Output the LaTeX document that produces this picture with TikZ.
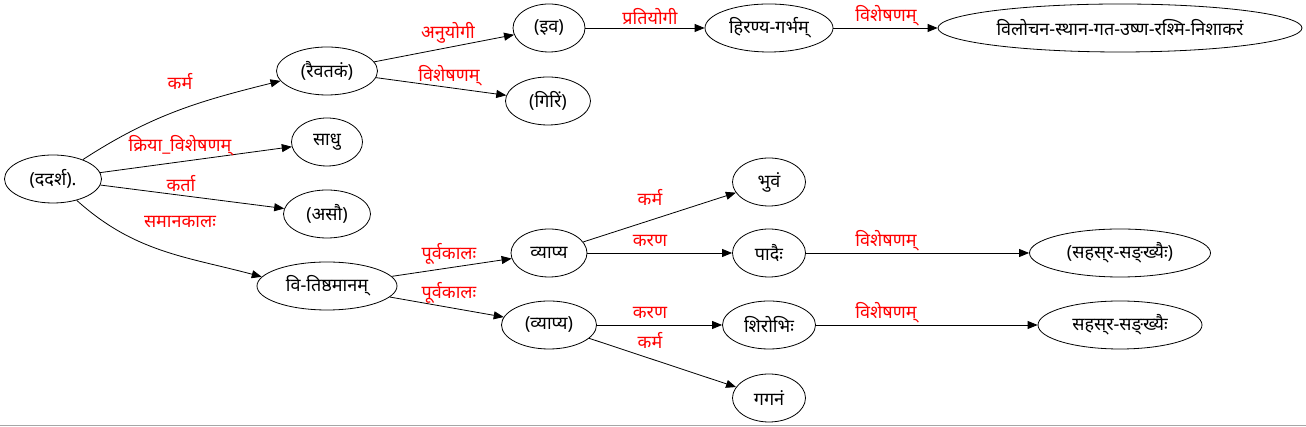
\documentclass[tikz,border=0pt]{standalone}
\usepackage{fontspec}
\newfontfamily\devfont[Script=Devanagari]{Noto Sans}
\usetikzlibrary{shapes.geometric,arrows.meta}

\begin{document}
\begin{tikzpicture}[x=1pt, y=1pt,
    word/.style={ellipse, draw, line width=0.8pt, minimum height=48pt, inner sep=0pt, font=\fontsize{18}{20}\selectfont\devfont},
    rel/.style={line width=0.8pt, -{Triangle[length=10pt, width=8pt]}},
    lbl/.style={text=red, inner sep=0pt, font=\fontsize{18}{20}\selectfont\devfont}]
    \useasboundingbox (0,0) rectangle (1306,427);
    % Frame edge at the bottom
    \draw[gray!70, line width=1pt] (0,1.5) -- (1306,1.5);

    % Draw words
    \node[word, minimum width=97pt] (dad) at (53,248) {(ददर्श).};
    \node[word, minimum width=101pt] (rai) at (327,356) {(रैवतकं)};
    \node[word, minimum width=71pt] (sadhu) at (327,285) {साधु};
    \node[word, minimum width=87pt] (asau) at (327,213) {(असौ)};
    \node[word, minimum width=140pt] (vitish) at (327,141) {वि-तिष्ठमानम्};
    \node[word, minimum width=72pt] (iva) at (549,399) {(इव)};
    \node[word, minimum width=85pt] (giri) at (548,326) {(गिरिं)};
    \node[word, minimum width=76pt] (vyapya) at (549,174) {व्याप्य};
    \node[word, minimum width=95pt] (pvyapya) at (549,102) {(व्याप्य)};
    \node[word, minimum width=128pt] (hir) at (769,399) {हिरण्य-गर्भम्};
    \node[word, minimum width=73pt] (bhuvam) at (769,245) {भुवं};
    \node[word, minimum width=73pt] (padaih) at (769,174) {पादैः};
    \node[word, minimum width=93pt] (shirobhih) at (769,102) {शिरोभिः};
    \node[word, minimum width=73pt] (gaganam) at (769,29) {गगनं};
    \node[word, minimum width=364pt] (vilo) at (1120,399) {विलोचन-स्थान-गत-उष्ण-रश्मि-निशाकरं};
    \node[word, minimum width=181pt] (psah) at (1120,174) {(सहस्^^^^200cर-सङ्^^^^200cख्यैः)};
    \node[word, minimum width=164pt] (sah) at (1120,102) {सहस्^^^^200cर-सङ्^^^^200cख्यैः};

    % Draw relations
    \draw[rel] (dad) to[out=33, in=194] (rai.192);
    \draw[rel] (dad) to[out=-42, in=165] (vitish.172);
    \foreach \s/\t in {dad/sadhu, dad/asau, rai/iva, rai/giri, iva/hir, hir/vilo,
        vitish/vyapya, vitish/pvyapya, vyapya/bhuvam, vyapya/padaih, padaih/psah,
        pvyapya/shirobhih, pvyapya/gaganam, shirobhih/sah}
        \draw[rel] (\s) -- (\t);

    % Relation labels
    \foreach \pos/\txt [count=\i] in {{180,346}/कर्म, {180,281}/क्रिया\_विशेषणम्,
        {181,243}/कर्ता, {180,205}/समानकालः, {448,394}/अनुयोगी, {449,351}/विशेषणम्,
        {650,410}/प्रतियोगी, {886,411}/विशेषणम्, {449,173}/पूर्वकालः, {449,134}/पूर्वकालः,
        {650,230}/कर्म, {650,186}/करण, {886,186}/विशेषणम्, {650,114}/करण,
        {650,87}/कर्म, {886,114}/विशेषणम्}
        \node[lbl] (lab\i) at (\pos) {\txt};
\end{tikzpicture}
\end{document}
